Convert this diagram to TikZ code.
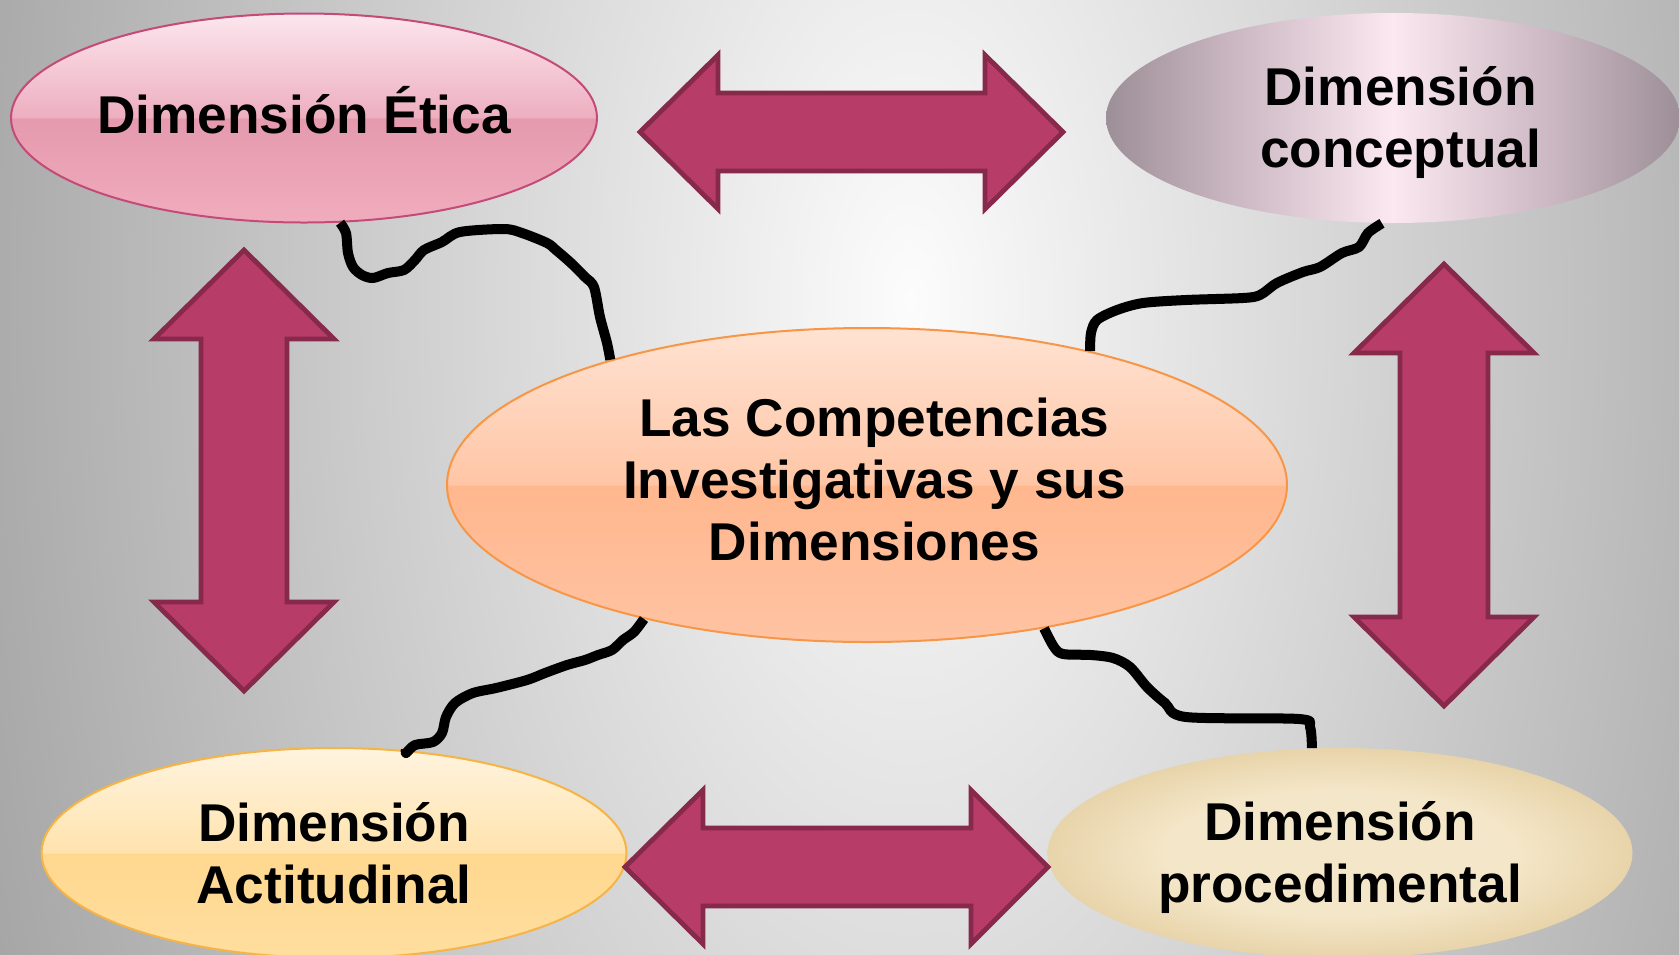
\documentclass[tikz,border=0pt]{standalone}
\usepackage{fontspec}
\setmainfont{Liberation Sans}
\usetikzlibrary{shapes.geometric}

\definecolor{bgIn}{HTML}{FCFCFC}
\definecolor{bgOut}{HTML}{A6A6A6}
\definecolor{arFill}{HTML}{B83C68}
\definecolor{arBorder}{HTML}{86294A}

\definecolor{etTop}{HTML}{FCE6EE}
\definecolor{etUp}{HTML}{EDAFC0}
\definecolor{etLow}{HTML}{E59AAE}
\definecolor{etBot}{HTML}{F0ACBD}
\definecolor{etBorder}{HTML}{C44A78}

\definecolor{ceTop}{HTML}{FFE2D2}
\definecolor{ceUp}{HTML}{FFC6A6}
\definecolor{ceLow}{HTML}{FFB78E}
\definecolor{ceBot}{HTML}{FFC3A3}
\definecolor{ceBorder}{HTML}{F79646}

\definecolor{acTop}{HTML}{FFF4DF}
\definecolor{acUp}{HTML}{FFE3AE}
\definecolor{acLow}{HTML}{FFD88F}
\definecolor{acBot}{HTML}{FFDE9F}
\definecolor{acBorder}{HTML}{F6B445}

\definecolor{cgOut}{HTML}{9D8F97}
\definecolor{cgMid}{HTML}{D0BCC6}
\definecolor{cgIn}{HTML}{FBE8F0}

\definecolor{prIn}{HTML}{F4E6C8}
\definecolor{prOut}{HTML}{E8D4AA}

\pgfdeclareverticalshading{glossEtica}{100bp}{color(0bp)=(etBot); color(25bp)=(etBot); color(49.8bp)=(etLow); color(50.2bp)=(etUp); color(75bp)=(etTop); color(100bp)=(etTop)}
\pgfdeclareverticalshading{glossCentral}{100bp}{color(0bp)=(ceBot); color(25bp)=(ceBot); color(49.8bp)=(ceLow); color(50.2bp)=(ceUp); color(75bp)=(ceTop); color(100bp)=(ceTop)}
\pgfdeclareverticalshading{glossActit}{100bp}{color(0bp)=(acBot); color(25bp)=(acBot); color(49.8bp)=(acLow); color(50.2bp)=(acUp); color(75bp)=(acTop); color(100bp)=(acTop)}
\pgfdeclarehorizontalshading{conceptShade}{100bp}{color(0bp)=(cgOut); color(25bp)=(cgOut); color(37.5bp)=(cgMid); color(50bp)=(cgIn); color(62.5bp)=(cgMid); color(75bp)=(cgOut); color(100bp)=(cgOut)}
\pgfdeclareradialshading{parchShade}{\pgfpoint{0bp}{0bp}}{color(0bp)=(prIn); color(15bp)=(prIn); color(25bp)=(prOut); color(50bp)=(prOut)}

\tikzset{
  dimbase/.style={ellipse, inner sep=0pt},
  dimtext/.style={inner sep=0pt, align=center, text=black,
    font=\fontsize{26.6}{31}\selectfont\bfseries},
  eticanode/.style={dimbase, minimum width=293pt, minimum height=104.5pt,
    shade, shading=glossEtica, draw=etBorder, line width=1pt},
  conceptnode/.style={dimbase, minimum width=287pt, minimum height=105pt,
    shade, shading=conceptShade},
  centralnode/.style={dimbase, minimum width=420pt, minimum height=157pt,
    shade, shading=glossCentral, draw=ceBorder, line width=1pt},
  actitnode/.style={dimbase, minimum width=292.5pt, minimum height=105pt,
    shade, shading=glossActit, draw=acBorder, line width=1pt},
  procednode/.style={dimbase, minimum width=292.5pt, minimum height=105pt,
    shade, shading=parchShade},
  bigarrow/.style={fill=arFill, draw=arBorder, line width=2.4pt, line join=miter},
  link/.style={draw=black, line width=5pt, line join=round},
}

\begin{document}
\begin{tikzpicture}[x=0.5pt, y=-0.5pt]
\useasboundingbox (0,0) rectangle (1679,954);
% background
\begin{scope}
  \clip (0,0) rectangle (1679,954);
  \fill[bgOut] (0,0) rectangle (1679,954);
  \shade[inner color=bgIn, outer color=bgOut] (910,300) ellipse [x radius=487pt, y radius=925pt];
\end{scope}

% ellipses
\node[eticanode] (etica) at (304,118) {};
\node[conceptnode] (concep) at (1393,118) {};
\node[centralnode] (central) at (867,485) {};
\node[actitnode] (actit) at (334,853) {};
\node[procednode] (proced) at (1340,853) {};

% texts
\node[dimtext] (eticaT) at (304,110.5) {Dimensión Ética};
\node[dimtext] (concepT) at (1400.5,122.3) {Dimensión\\conceptual};
\node[dimtext] (centralT) at (874.5,479.6) {Las Competencias\\Investigativas y sus\\Dimensiones};
\node[dimtext] (actitT) at (334,853) {Dimensión\\Actitudinal};
\node[dimtext] (procedT) at (1340,857.3) {Dimensión\\procedimental};

% double arrows
\draw[bigarrow] (640,132) -- (718,55) -- (718,93) -- (985,93) -- (985,55) -- (1063,132)
  -- (985,209) -- (985,171) -- (718,171) -- (718,209) -- cycle;
\draw[bigarrow] (625,867) -- (703,790) -- (703,828) -- (971,828) -- (971,790) -- (1048,867)
  -- (971,944) -- (971,906) -- (703,906) -- (703,944) -- cycle;
\draw[bigarrow] (244,250) -- (334,339) -- (287,339) -- (287,602) -- (334,602) -- (244,691)
  -- (154,602) -- (201,602) -- (201,339) -- (154,339) -- cycle;
\draw[bigarrow] (1444,264) -- (1534,353) -- (1488,353) -- (1488,617) -- (1534,617) -- (1444,706)
  -- (1354,617) -- (1400,617) -- (1400,353) -- (1354,353) -- cycle;

% wavy connectors
\draw[link] plot[smooth, tension=0.5] coordinates {(etica.-71) (346,233) (348,253) (353,267)
  (362,275) (373,278) (388,273) (404,270) (415,260) (424,250) (442,242) (460,232) (504,229)
  (522,233) (547,243) (556,250) (571,263) (585,277) (594,287) (600,317) (607,343) (central.154)};
\draw[link] plot[smooth, tension=0.5] coordinates {(central.31) (1091,333) (1097,320) (1117,310)
  (1143,303) (1186,300) (1243,298) (1260,295) (1277,283) (1303,272) (1320,267) (1342,253)
  (1359,247) (1368,233) (concep.-96)};
\draw[link] plot[smooth, tension=0.5] coordinates {(central.-149) (634,632) (623,640) (612,650)
  (598,655) (585,660) (567,665) (545,673) (527,680) (496,688) (473,693) (455,703) (446,717)
  (442,733) (433,742) (415,745) (406,753) (actit.55)};
\draw[link] plot[smooth, tension=0.5] coordinates {(central.-39) (1054,647) (1063,654) (1091,655)
  (1113,658) (1130,667) (1147,687) (1165,703) (1186,717) (1299,719) (1310,727) (proced.105)};
\end{tikzpicture}
\end{document}
